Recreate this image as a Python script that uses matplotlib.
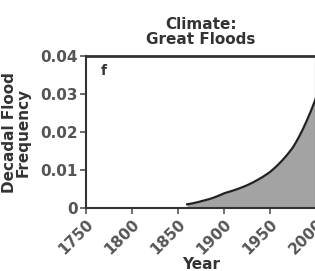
import matplotlib
matplotlib.use("Agg")
import matplotlib.pyplot as plt
import numpy as np

years = [1860, 1875, 1900, 1925, 1950, 1975, 1990, 2000]
freq = [0.001, 0.0018, 0.0039, 0.006, 0.0095, 0.016, 0.023, 0.029]
xticks = [1750, 1800, 1850, 1900, 1950, 2000]
yticks = [0, 0.01, 0.02, 0.03, 0.04]
ytick_labels = ["0", "0.01", "0.02", "0.03", "0.04"]

plt.rcParams['font.family'] = ['DejaVu Sans']
plt.rcParams['font.weight'] = 'bold'

fig = plt.figure(figsize=(3.15, 2.71), dpi=100)
ax = fig.add_axes([0.273, 0.232, 0.73, 0.561])

xs = np.linspace(years[0], years[-1], 200)
ys = np.exp(np.interp(xs, years, np.log(freq)))
ax.fill_between(xs, 0, ys, color='#a3a3a3', linewidth=0)
ax.plot(xs, ys, color='#222222', linewidth=1.6)

ax.set_xlim(1750, 2000)
ax.set_ylim(0, 0.04)
ax.set_xticks(xticks)
ax.set_xticklabels([str(t) for t in xticks], rotation=45, ha='right', rotation_mode='anchor')
ax.set_yticks(yticks)
ax.set_yticklabels(ytick_labels)
ax.tick_params(direction='out', length=4, width=1.2, labelsize=11, colors='#555555', pad=2)
for s in ax.spines.values():
    s.set_linewidth(1.5)
    s.set_color('#333333')
ax.spines['top'].set_linewidth(2.0)

ax.set_xlabel('Year', fontsize=11, fontweight='bold', color='#333333', labelpad=0)
ax.set_ylabel('Decadal Flood\nFrequency', fontsize=11, fontweight='bold', color='#333333', labelpad=7, linespacing=0.9)
ax.set_title('Climate:\nGreat Floods', fontsize=11, fontweight='bold', color='#333333', pad=9, linespacing=0.95)
ax.text(0.065, 0.95, 'f', transform=ax.transAxes, fontsize=10, fontweight='bold', color='#333333', va='top')

fig.savefig('out.png', dpi=100)
